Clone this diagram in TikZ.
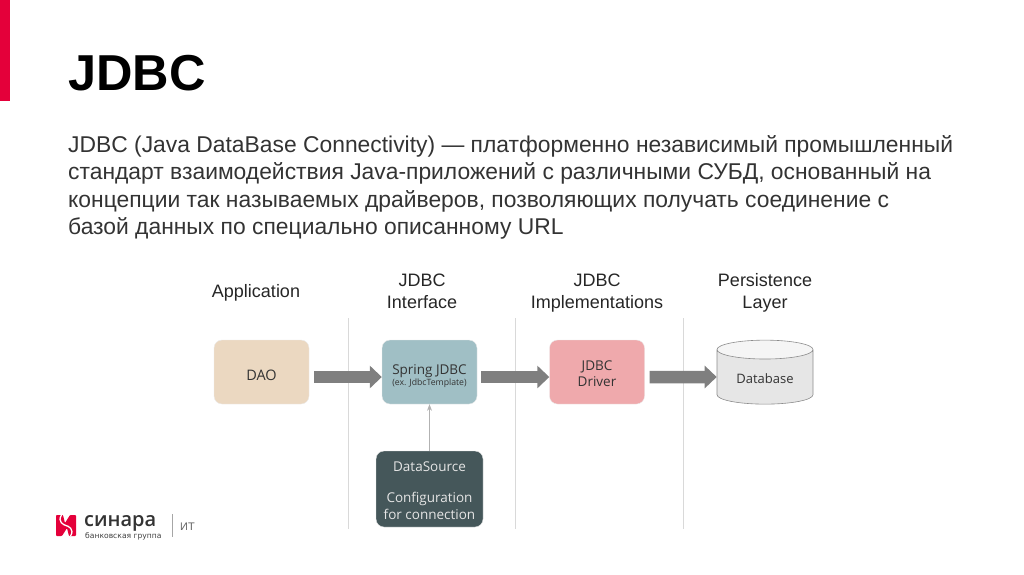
\documentclass[tikz,border=0pt]{standalone}
\usepackage{fontspec}
\setmainfont{Liberation Sans}
\newfontfamily\boxfont{Open Sans}
\usepackage{xcolor}
\usetikzlibrary{shapes.geometric,arrows.meta,positioning,calc}
\definecolor{sinared}{HTML}{E4003A}
\definecolor{daotan}{HTML}{EBD8C1}
\definecolor{springteal}{HTML}{A0BFC5}
\definecolor{driverpink}{HTML}{EFA9AC}
\definecolor{sourceslate}{HTML}{45575A}
\definecolor{dbgray}{HTML}{E6E6E6}
\definecolor{arrowgray}{HTML}{7F7F7F}
\definecolor{rulegray}{HTML}{D9D9D9}
\definecolor{inktext}{HTML}{333333}
\newcommand{\fs}[1]{\fontsize{#1}{#1}\selectfont}

\begin{document}
\begin{tikzpicture}[x=1pt, y=-1pt, >=Stealth,
  header/.style={align=center, font=\fs{18}\linespread{1.22}\selectfont, text=black!85},
  stagebox/.style={rounded corners=8pt, minimum width=95pt, minimum height=64pt, inner sep=0pt,
    draw=black!8, align=center, font=\boxfont\fs{13.5}, text=inktext},
  flow/.style={-{Triangle[length=12pt,width=22pt]}, line width=12.5pt, draw=arrowgray},
  lane/.style={draw=rulegray, line width=0.9pt},
  bodyline/.style={anchor=base west, inner sep=0pt, text=black!80, font=\fs{22.85}}]
  \useasboundingbox (0,0) rectangle (1024,574);

  % Slide title and text
  \fill[sinared] (0,0) rectangle (10,101);
  \node[anchor=base west, inner sep=0pt, font=\fs{50.5}\bfseries] (title) at (68,90) {JDBC};
  \node[bodyline] (line1) at (68,152)
    {JDBC (Java DataBase Connectivity) — платформенно независимый промышленный};
  \node[bodyline] (line2) at (68,179.5)
    {стандарт взаимодействия Java-приложений с различными СУБД, основанный на};
  \node[bodyline] (line3) at (68,207)
    {концепции так называемых драйверов, позволяющих получать соединение с};
  \node[bodyline] (line4) at (68,234)
    {базой данных по специально описанному URL};

  % Headers
  \node[header] (hdrapp) at (256,293) {Application};
  \node[header] (hdrjdbc) at (422,291) {JDBC\\Interface};
  \node[header] (hdrimpl) at (597,293) {JDBC\\Implementations};
  \node[header] (hdrlayer) at (765,293) {Persistence\\Layer};

  % Lanes
  \draw[lane] (348,318) -- (348,529);
  \draw[lane] (515,318) -- (515,529);
  \draw[lane] (683,318) -- (683,529);

  % Boxes
  \node[stagebox, fill=daotan, font=\boxfont\fs{14.5}] (dao) at (261.5,372) {\rule{0pt}{17pt}DAO};
  \node[stagebox, fill=springteal] (spring) at (429.5,372)
    {\rule{0pt}{18pt}Spring JDBC\\[-2pt]{\fs{8.7}(ex. JdbcTemplate)}};
  \node[stagebox, fill=driverpink] (driver) at (597,372) {\rule{0pt}{14pt}JDBC\\[2.5pt]Driver};
  \node[stagebox, fill=sourceslate, text=white!90!black, minimum width=107pt, minimum height=76pt]
    (source) at (429.5,489) {\rule{0pt}{14pt}DataSource\\[17pt]Configuration\\[3pt]for connection};
  \node[cylinder, shape border rotate=90, aspect=0.33, minimum width=96pt, minimum height=64pt,
    inner sep=0pt, draw=black!45, line width=0.6pt, cylinder uses custom fill,
    cylinder body fill=dbgray, cylinder end fill=white!96!black,
    font=\boxfont\fs{13}, text=inktext] (db) at (765,377) {\rule{0pt}{13pt}Database};

  % Arrows
  \draw[flow, shorten <=5pt] ($(dao.east)+(0,5)$) -- ($(spring.west)+(0,5)$);
  \draw[flow, shorten <=4pt] ($(spring.east)+(0,5)$) -- ($(driver.west)+(0,5)$);
  \draw[flow, shorten <=5pt] ($(driver.east)+(0,5)$) -- (db.west);
  \draw[->, draw=black!30, line width=0.8pt] (source.north) -- (spring.south);

  % Logo
  \begin{scope}[shift={(56,515)}]
    \fill[sinared, rounded corners=0.8pt] (0,0) -- (7,0) -- (9,8) -- (14,0) -- (20,0) -- (20,21)
      -- (13,21) -- (11,13) -- (6,21) -- (0,21) -- cycle;
    \draw[white, line width=1.3pt] (5.5,0) .. controls (1,7) and (8,10) .. (10,10.5)
      .. controls (12,11) and (19,14) .. (14.5,21);
  \end{scope}
  \node[anchor=base west, inner sep=0pt, text=black!80, font=\fontspec{Open Sans Semibold}\fs{20}] (brand) at (84,526.5) {синара};
  \node[anchor=base west, inner sep=0pt, text=black!75, font=\fontspec{DejaVu Sans}\fs{7.6}] (group) at (85,538.5) {банковская группа};
  \node[anchor=base west, inner sep=0pt, text=black!60, font=\fs{11}] (unit) at (180,530) {ИТ};
  \draw[draw=black!35, line width=0.7pt] (172,514) -- (172,537);
\end{tikzpicture}
\end{document}
